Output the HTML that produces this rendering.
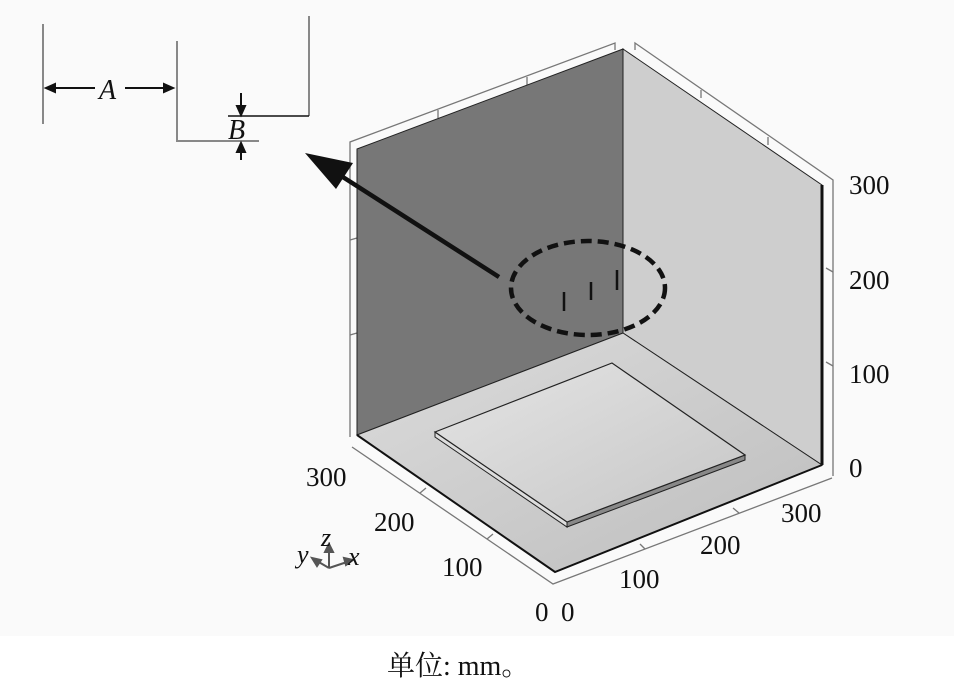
<!DOCTYPE html>
<html><head><meta charset="utf-8"><style>
html,body{margin:0;padding:0;background:#fff;}
svg{display:block}
text{font-family:"Liberation Serif","Noto Serif CJK SC",serif;fill:#111}
</style></head><body>
<svg width="954" height="691" viewBox="0 0 954 691">
<defs>
<linearGradient id="fl" x1="0" y1="0" x2="1" y2="1"><stop offset="0" stop-color="#dcdcdc"/><stop offset="1" stop-color="#bdbdbd"/></linearGradient>
<linearGradient id="pl" x1="0" y1="0" x2="1" y2="1"><stop offset="0" stop-color="#e4e4e4"/><stop offset="1" stop-color="#c6c6c6"/></linearGradient>
</defs>
<rect x="0" y="0" width="954" height="636" fill="#fafafa"/>
<g stroke="#777" stroke-width="1.3" fill="none">
<polyline points="350,437 350,142 615,43 615,50"/>
<polyline points="635,50 635,43 833,180 833,476"/>
<polyline points="352,447 553,584 832,478"/>
<line x1="350" y1="240" x2="357" y2="238"/><line x1="350" y1="335" x2="357" y2="333"/>
<line x1="438" y1="110" x2="438" y2="118"/><line x1="527" y1="77" x2="527" y2="85"/>
<line x1="701" y1="90" x2="701" y2="98"/><line x1="768" y1="137" x2="768" y2="145"/>
<line x1="833" y1="272" x2="826" y2="268"/><line x1="833" y1="366" x2="826" y2="362"/>
<line x1="420" y1="493" x2="426" y2="488"/><line x1="487" y1="539" x2="493" y2="534"/>
<line x1="645" y1="549" x2="640" y2="544"/><line x1="739" y1="513" x2="733" y2="508"/>
</g>
<polygon points="357,149 623,49 623,333 357,435" fill="#777" stroke="#222" stroke-width="1"/>
<polygon points="623,49 822,185 822,465 623,333" fill="#cecece" stroke="#222" stroke-width="1"/>
<line x1="822" y1="185" x2="822" y2="465" stroke="#111" stroke-width="3"/>
<polygon points="357,435 623,333 822,465 555,572" fill="url(#fl)" stroke="#222" stroke-width="1"/>
<polyline points="357,435 555,572 822,465" fill="none" stroke="#111" stroke-width="2"/>
<polygon points="435,432 567,522 567,527 435,437" fill="#ddd" stroke="#222" stroke-width="1"/>
<polygon points="567,522 745,455 745,460 567,527" fill="#888" stroke="#222" stroke-width="1"/>
<polygon points="435,432 612,363 745,455 567,522" fill="url(#pl)" stroke="#222" stroke-width="1.2"/>
<ellipse cx="588" cy="288" rx="77" ry="47" fill="none" stroke="#111" stroke-width="4.5" stroke-dasharray="11,6"/>
<g stroke="#111" stroke-width="2.5"><line x1="564" y1="292" x2="564" y2="311"/><line x1="591" y1="282" x2="591" y2="300"/><line x1="617" y1="270" x2="617" y2="290"/></g>
<line x1="499" y1="277" x2="335" y2="172" stroke="#111" stroke-width="4.5"/>
<polygon points="305,153 353,163 336,189" fill="#111"/>
<g stroke="#888" stroke-width="2" fill="none">
<line x1="43" y1="24" x2="43" y2="124"/>
<polyline points="177,41 177,141 259,141"/>
<polyline points="309,16 309,116"/>
</g>
<line x1="228" y1="116" x2="309" y2="116" stroke="#111" stroke-width="1.5"/>
<g stroke="#111" stroke-width="2" fill="#111">
<line x1="52" y1="88" x2="95" y2="88"/><polygon points="46,88 55,84 55,92"/>
<line x1="125" y1="88" x2="166" y2="88"/><polygon points="173,88 164,84 164,92"/>
<line x1="241" y1="93" x2="241" y2="108"/><polygon points="241,115 237,106 245,106"/>
<line x1="241" y1="150" x2="241" y2="160"/><polygon points="241,143 237,152 245,152"/>
</g>
<text x="99" y="99" font-size="28" font-style="italic" font-family="Liberation Serif">A</text>
<text x="228" y="139" font-size="28" font-style="italic" font-family="Liberation Serif">B</text>
<g font-size="27" font-family="Liberation Serif">
<text x="849" y="194">300</text><text x="849" y="289">200</text><text x="849" y="383">100</text><text x="849" y="477">0</text>
<text x="306" y="486">300</text><text x="374" y="531">200</text><text x="442" y="576">100</text><text x="535" y="621">0</text>
<text x="561" y="621">0</text><text x="619" y="588">100</text><text x="700" y="554">200</text><text x="781" y="522">300</text>
</g>
<g stroke="#555" stroke-width="2" fill="#555">
<line x1="329" y1="568" x2="329" y2="549"/><polygon points="329,544 325,552 333,552"/>
<line x1="329" y1="568" x2="347" y2="562"/><polygon points="353,560 344,558 346,565"/>
<line x1="329" y1="568" x2="317" y2="561"/><polygon points="312,558 317,566 321,560"/>
</g>
<g font-size="26" font-style="italic" font-family="Liberation Serif"><text x="297" y="563">y</text><text x="321" y="546">z</text><text x="348" y="565">x</text></g>
<text x="387" y="675" font-size="28" font-family="Liberation Serif, Noto Serif CJK SC, serif">单位: mm。</text>
</svg>
</body></html>
